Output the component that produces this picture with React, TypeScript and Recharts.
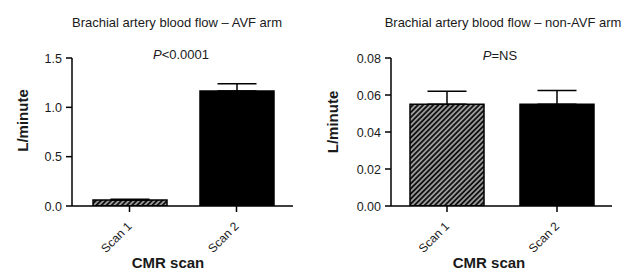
import React from 'react';
import { BarChart, Bar, XAxis, YAxis, ErrorBar, Cell } from 'recharts';

const categories = ['Scan 1', 'Scan 2'];
const avfMeans = [0.06, 1.165];
const avfErrors = [0.008, 0.075];
const nonAvfMeans = [0.055, 0.055];
const nonAvfErrors = [0.007, 0.0075];
const avfTicks = [0, 0.5, 1.0, 1.5];
const nonAvfTicks = [0, 0.02, 0.04, 0.06, 0.08];
const avfTickLabels = ['0.0', '0.5', '1.0', '1.5'];
const nonAvfTickLabels = ['0.00', '0.02', '0.04', '0.06', '0.08'];

const FONT = '"Liberation Sans", Arial, Helvetica, sans-serif';

const avfData = categories.map((c, i) => ({ name: c, mean: avfMeans[i], err: [0, avfErrors[i]] }));
const nonAvfData = categories.map((c, i) => ({ name: c, mean: nonAvfMeans[i], err: [0, nonAvfErrors[i]] }));

const RotTick = (props: any) => {
  const { x, y, payload } = props;
  return (
    <g transform={`translate(${x - 3},${y + 7})`}>
      <text
        x={0}
        y={0}
        dy="0.71em"
        textAnchor="end"
        transform="rotate(-45)"
        fontSize={12}
        fontFamily={FONT}
        fill="#1a1a1a"
      >
        {payload.value}
      </text>
    </g>
  );
};

const makeYTick = (labels: string[], ticks: number[]) => (props: any) => {
  const { x, y, payload } = props;
  const idx = ticks.indexOf(payload.value);
  return (
    <text x={x} y={y} dy="0.36em" textAnchor="end" fontSize={12.5} fontFamily={FONT} fill="#1a1a1a">
      {idx >= 0 ? labels[idx] : payload.value}
    </text>
  );
};

const axisLine = { stroke: '#000', strokeWidth: 1.5 };
const tickLine = { stroke: '#000', strokeWidth: 1.5 };

function Panel(props: {
  data: any[];
  domain: [number, number];
  ticks: number[];
  labels: string[];
  yWidth: number;
  right: number;
  padding: { left: number; right: number };
}) {
  const { data, domain, ticks, labels, yWidth, right, padding } = props;
  return (
    <BarChart
      width={313}
      height={274}
      data={data}
      margin={{ top: 58, right, bottom: 0, left: 0 }}
      barCategoryGap={0}
    >
      <XAxis
        dataKey="name"
        height={68}
        axisLine={axisLine}
        tickLine={tickLine}
        tickSize={6}
        interval={0}
        padding={padding}
        tick={<RotTick />}
      />
      <YAxis
        width={yWidth}
        domain={domain}
        ticks={ticks}
        allowDataOverflow
        axisLine={axisLine}
        tickLine={tickLine}
        tickSize={6}
        tickMargin={4}
        tick={makeYTick(labels, ticks)}
      />
      <Bar dataKey="mean" barSize={74} isAnimationActive={false}>
        <Cell fill="url(#hatch)" stroke="#000" strokeWidth={1.5} />
        <Cell fill="#000" stroke="#000" strokeWidth={1.5} />
        <ErrorBar dataKey="err" width={19.5} stroke="#000" strokeWidth={1.5} direction="y" />
      </Bar>
    </BarChart>
  );
}

export default function App() {
  return (
    <div style={{ position: 'absolute', left: 0, top: 0, width: 626, height: 274, background: '#fff' }}>
      <svg width={0} height={0} style={{ position: 'absolute' }}>
        <defs>
          <pattern id="hatch" patternUnits="userSpaceOnUse" width={3.6} height={3.6} patternTransform="rotate(45)">
            <rect x={0} y={0} width={3.6} height={3.6} fill="#9a9a9a" />
            <rect x={0} y={0} width={1.8} height={3.6} fill="#111" />
          </pattern>
        </defs>
      </svg>
      <div style={{ position: 'absolute', left: 0, top: 0 }}>
        <Panel
          data={avfData}
          domain={[0, 1.5]}
          ticks={avfTicks}
          labels={avfTickLabels}
          yWidth={72}
          right={20}
          padding={{ left: 4, right: 3 }}
        />
      </div>
      <div style={{ position: 'absolute', left: 313, top: 0 }}>
        <Panel
          data={nonAvfData}
          domain={[0, 0.08]}
          ticks={nonAvfTicks}
          labels={nonAvfTickLabels}
          yWidth={78}
          right={14}
          padding={{ left: 1, right: 0 }}
        />
      </div>
      <svg width={626} height={274} style={{ position: 'absolute', left: 0, top: 0, pointerEvents: 'none' }}>
        <g fontFamily={FONT} fill="#1a1a1a">
          <text x={177} y={27} textAnchor="middle" fontSize={13}>Brachial artery blood flow – AVF arm</text>
          <text x={503} y={27} textAnchor="middle" fontSize={13}>Brachial artery blood flow – non-AVF arm</text>
          <text x={181} y={59} textAnchor="middle" fontSize={13}>
            <tspan fontStyle="italic">P</tspan>&lt;0.0001
          </text>
          <text x={500} y={60} textAnchor="middle" fontSize={13}>
            <tspan fontStyle="italic">P</tspan>=NS
          </text>
          <text x={27.5} y={120.5} textAnchor="middle" fontSize={15} fontWeight="bold" transform="rotate(-90 27.5 120.5)">L/minute</text>
          <text x={338} y={122} textAnchor="middle" fontSize={15} fontWeight="bold" transform="rotate(-90 338 122)">L/minute</text>
          <text x={168} y={268} textAnchor="middle" fontSize={15} fontWeight="bold">CMR scan</text>
          <text x={489} y={268} textAnchor="middle" fontSize={15} fontWeight="bold">CMR scan</text>
        </g>
      </svg>
    </div>
  );
}
